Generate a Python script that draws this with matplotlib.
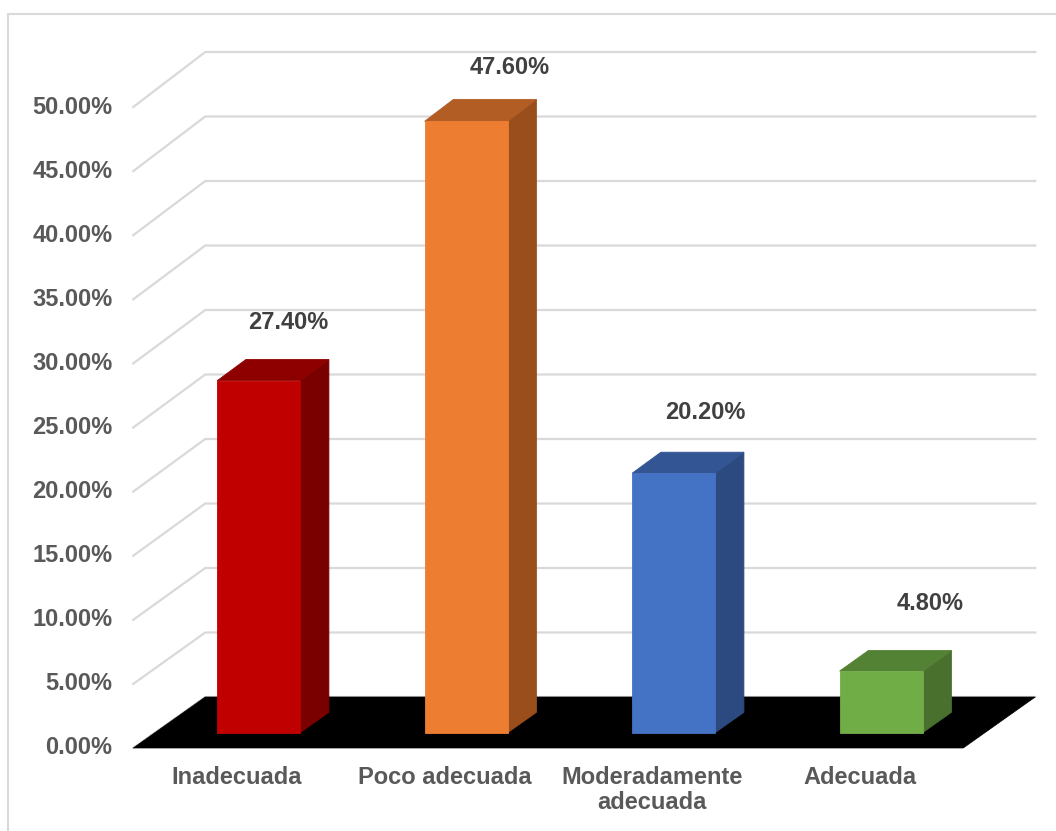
import matplotlib.pyplot as plt
from matplotlib.patches import Polygon, Rectangle

# Data
categories = ['Inadecuada', 'Poco adecuada', 'Moderadamente\nadecuada', 'Adecuada']
values = [27.4, 47.6, 20.2, 4.8]
yticks = [0, 5, 10, 15, 20, 25, 30, 35, 40, 45, 50]

front_colors = ['#C00000', '#ED7D31', '#4472C4', '#70AD47']
top_colors = ['#8E0000', '#B25D24', '#335593', '#548235']
side_colors = ['#7A0000', '#9A4E1C', '#2C4A7F', '#4A702E']

# small nudges of the value labels (category units, percent units)
label_dx = [0.246, 0.316, 0.258, 0.34]
label_dy = [5.8, 5.5, 6.0, 6.5]

# Layout of the fake 3D view (pixels)
W, H = 1056, 831
X0, CAT_PX = 237, 207.5      # front x of category 0, px per category
Y0, PCT_PX = 748, 12.82      # front y of 0 %, px per percent
DX = 72 / CAT_PX             # full depth offset in category units
DY = 51 / PCT_PX             # full depth offset in percent units
PERSP = 12.9 / 12.82 - 1     # back wall is a touch taller than the front
BAR_W = 0.4
Z0, Z1 = 0.3, 0.7            # bar depth range

plt.rcParams['font.family'] = ['Liberation Sans', 'DejaVu Sans']

fig = plt.figure(figsize=(W / 100, H / 100), dpi=100)
ax = fig.add_axes([0, 0, 1, 1])
ax.set_xlim(-X0 / CAT_PX, (W - X0) / CAT_PX)
ax.set_ylim((Y0 - H) / PCT_PX, Y0 / PCT_PX)
ax.axis('off')


def P(x, v, z):
    return (x + z * DX, v * (1 + z * PERSP) + z * DY)


# outer border of the chart area
ax.add_patch(Rectangle((-(X0 - 8) / CAT_PX, (Y0 - H - 20) / PCT_PX),
                       (W + 20) / CAT_PX, (H + 6) / PCT_PX,
                       fill=False, ec='#D9D9D9', lw=1.5, zorder=0))

grid_c = '#D9D9D9'
xl, xr = -0.5, len(categories) - 0.5
for t in yticks:
    a = P(xl, t, 0)
    b = P(xl, t, 1)
    c = P(xr, t, 1)
    ax.plot([a[0], b[0], c[0]], [a[1], b[1], c[1]], color=grid_c, lw=1.6, zorder=1,
            solid_joinstyle='miter')
    ax.text(xl - 0.1, t, f'{t:.2f}%', ha='right', va='center', fontsize=17,
            fontweight='bold', color='#595959')

# floor
floor = [P(xl, 0, 0), P(xr, 0, 0), P(xr, 0, 1), P(xl, 0, 1)]
ax.add_patch(Polygon(floor, closed=True, fc='black', ec='black', lw=0.5, zorder=2))

# bars
for i, v in enumerate(values):
    l, r = i - BAR_W / 2, i + BAR_W / 2
    side = [P(r, 0, Z0), P(r, 0, Z1), P(r, v, Z1), P(r, v, Z0)]
    top = [P(l, v, Z0), P(r, v, Z0), P(r, v, Z1), P(l, v, Z1)]
    front = [P(l, 0, Z0), P(r, 0, Z0), P(r, v, Z0), P(l, v, Z0)]
    ax.add_patch(Polygon(side, closed=True, fc=side_colors[i], ec=side_colors[i], lw=0.6, zorder=3))
    ax.add_patch(Polygon(top, closed=True, fc=top_colors[i], ec=top_colors[i], lw=0.6, zorder=3))
    ax.add_patch(Polygon(front, closed=True, fc=front_colors[i], ec=front_colors[i], lw=0.6, zorder=4))
    ax.text(i + label_dx[i], v + label_dy[i], f'{v:.2f}%', ha='center', va='center',
            fontsize=17, fontweight='bold', color='#404040', zorder=5)

# category labels
for i, name in enumerate(categories):
    ax.text(i, (Y0 - 766) / PCT_PX, name, ha='center', va='top', fontsize=17,
            fontweight='bold', color='#595959', linespacing=1.1)

plt.savefig('out.png', dpi=100)
